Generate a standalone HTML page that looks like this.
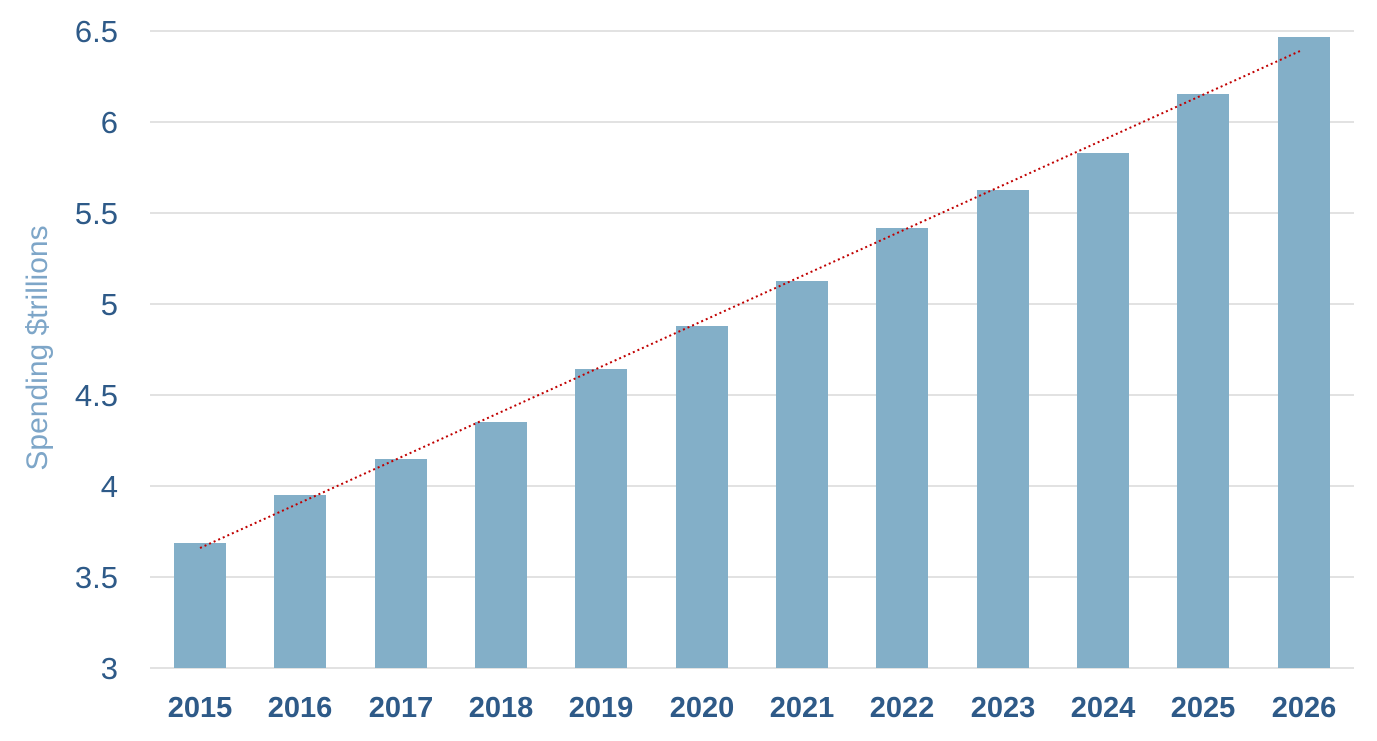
<!DOCTYPE html>
<html><head><meta charset="utf-8"><style>
body{margin:0;background:#fff;}
svg text{font-family:"Liberation Sans",sans-serif;}
</style></head><body>
<svg width="1377" height="736" viewBox="0 0 1377 736" xmlns="http://www.w3.org/2000/svg">
<g stroke="#d9d9d9" stroke-width="1.5">
<line x1="150" x2="1354" y1="31" y2="31"/>
<line x1="150" x2="1354" y1="122" y2="122"/>
<line x1="150" x2="1354" y1="213" y2="213"/>
<line x1="150" x2="1354" y1="304" y2="304"/>
<line x1="150" x2="1354" y1="395" y2="395"/>
<line x1="150" x2="1354" y1="486" y2="486"/>
<line x1="150" x2="1354" y1="577" y2="577"/>
<line x1="150" x2="1354" y1="668" y2="668"/>
</g>
<g fill="#83afc8">
<rect x="174" y="543" width="52" height="125"/>
<rect x="274" y="495" width="52" height="173"/>
<rect x="375" y="459" width="52" height="209"/>
<rect x="475" y="422" width="52" height="246"/>
<rect x="575" y="369" width="52" height="299"/>
<rect x="676" y="326" width="52" height="342"/>
<rect x="776" y="281" width="52" height="387"/>
<rect x="876" y="228" width="52" height="440"/>
<rect x="977" y="190" width="52" height="478"/>
<rect x="1077" y="153" width="52" height="515"/>
<rect x="1177" y="94" width="52" height="574"/>
<rect x="1278" y="37" width="52" height="631"/>
</g>
<line x1="200" y1="548" x2="1300" y2="51" stroke="#c00000" stroke-width="2" stroke-dasharray="2,3"/>
<g fill="#2e5a88" font-size="31" text-anchor="end">
<text x="118" y="42">6.5</text>
<text x="118" y="133">6</text>
<text x="118" y="224">5.5</text>
<text x="118" y="315">5</text>
<text x="118" y="406">4.5</text>
<text x="118" y="497">4</text>
<text x="118" y="588">3.5</text>
<text x="118" y="679">3</text>
</g>
<g fill="#2e5a88" font-size="29" font-weight="bold" text-anchor="middle">
<text x="200" y="717">2015</text>
<text x="300" y="717">2016</text>
<text x="401" y="717">2017</text>
<text x="501" y="717">2018</text>
<text x="601" y="717">2019</text>
<text x="702" y="717">2020</text>
<text x="802" y="717">2021</text>
<text x="902" y="717">2022</text>
<text x="1003" y="717">2023</text>
<text x="1103" y="717">2024</text>
<text x="1203" y="717">2025</text>
<text x="1304" y="717">2026</text>
</g>
<text transform="translate(47,348) rotate(-90)" fill="#7ea6c8" font-size="30" text-anchor="middle">Spending $trillions</text>
</svg>
</body></html>
